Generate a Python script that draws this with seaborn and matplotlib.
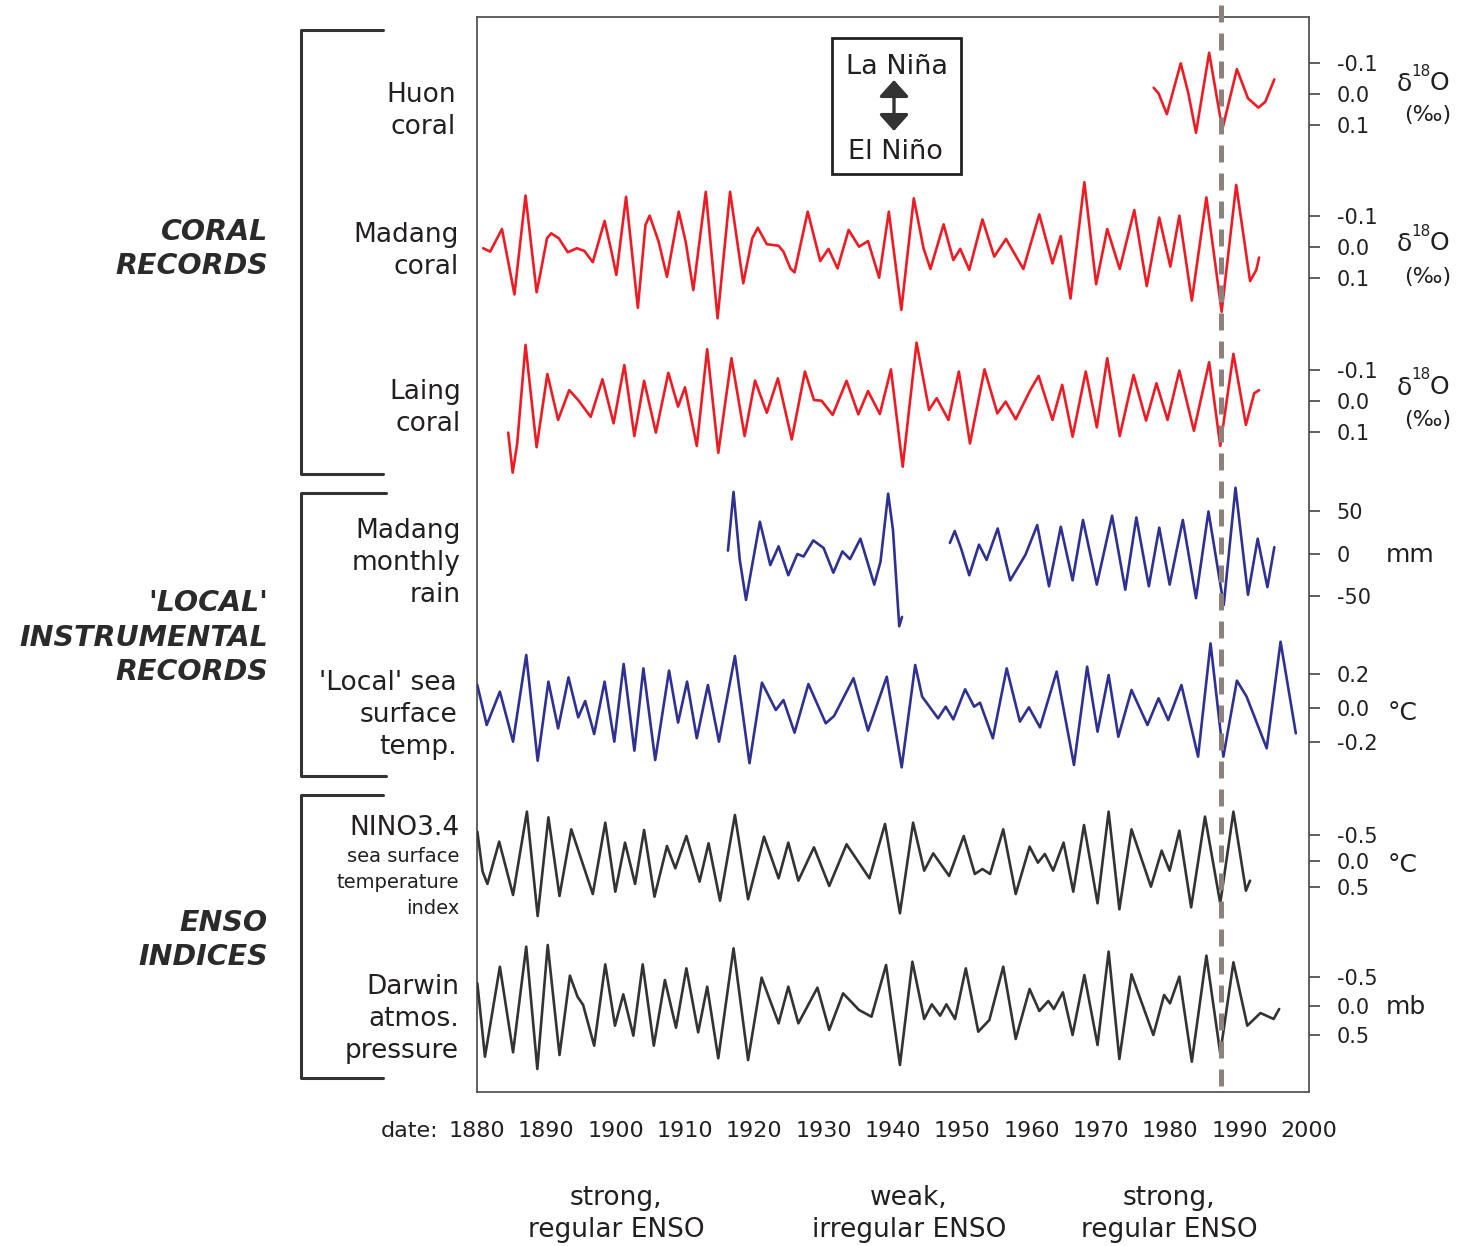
import numpy as np
import pandas as pd
import matplotlib
matplotlib.use("Agg")
import matplotlib.pyplot as plt
import seaborn as sns
from matplotlib.patches import Rectangle, FancyArrowPatch
from matplotlib.lines import Line2D

# ---------------- data (year, value) ----------------
huon_d18o = [(1977.6, -0.020), (1978.3, -0.002), (1979.5, 0.065), (1981.5, -0.099), (1982.6, -0.002),
             (1983.7, 0.125), (1985.6, -0.133), (1987.5, 0.114), (1989.6, -0.080), (1991.2, 0.014),
             (1992.0, 0.030), (1992.7, 0.044), (1993.7, 0.025), (1995.0, -0.047)]

madang_d18o = [(1880.9, 0.004), (1881.9, 0.015), (1883.6, -0.058), (1885.4, 0.153), (1887.0, -0.166),
               (1888.6, 0.146), (1889.1, 0.090), (1890.1, -0.028), (1890.7, -0.044), (1891.8, -0.028),
               (1893.1, 0.017), (1894.4, 0.004), (1895.5, 0.013), (1896.7, 0.049), (1898.4, -0.084),
               (1899.4, 0.015), (1900.1, 0.090), (1901.5, -0.162), (1903.2, 0.196), (1904.3, -0.071),
               (1904.9, -0.101), (1906.2, -0.017), (1907.4, 0.096), (1909.1, -0.114), (1910.1, -0.017),
               (1911.2, 0.139), (1913.0, -0.178), (1914.7, 0.230), (1916.5, -0.178), (1918.4, 0.117),
               (1919.7, -0.028), (1920.5, -0.062), (1921.8, -0.009), (1923.5, -0.004), (1924.2, 0.015),
               (1925.2, 0.069), (1925.8, 0.082), (1927.7, -0.114), (1929.5, 0.045), (1930.7, 0.006),
               (1932.0, 0.069), (1933.6, -0.055), (1935.1, -0.001), (1936.4, -0.019), (1938.0, 0.099),
               (1939.4, -0.114), (1941.2, 0.203), (1943.0, -0.157), (1944.4, 0.004), (1945.4, 0.071),
               (1947.3, -0.073), (1948.7, 0.042), (1949.7, 0.006), (1951.0, 0.074), (1952.9, -0.089),
               (1954.6, 0.031), (1956.3, -0.026), (1958.8, 0.071), (1961.1, -0.105), (1963.0, 0.053),
               (1964.2, -0.035), (1965.6, 0.166), (1967.6, -0.209), (1969.3, 0.120), (1970.9, -0.058),
               (1972.7, 0.071), (1974.8, -0.119), (1976.6, 0.126), (1978.4, -0.095), (1980.0, 0.063),
               (1981.3, -0.101), (1983.1, 0.173), (1985.2, -0.160), (1987.4, 0.209), (1989.5, -0.200),
               (1991.5, 0.110), (1992.4, 0.074), (1992.8, 0.034)]

laing_d18o = [(1884.5, 0.102), (1885.15, 0.231), (1885.8, 0.137), (1887.0, -0.181), (1888.6, 0.149),
              (1890.15, -0.087), (1891.7, 0.061), (1893.3, -0.035), (1894.6, -0.003), (1896.4, 0.051),
              (1898.1, -0.070), (1899.7, 0.072), (1901.25, -0.116), (1902.7, 0.113), (1904.1, -0.065),
              (1905.8, 0.102), (1907.6, -0.091), (1909.0, 0.018), (1910.0, -0.044), (1911.7, 0.145),
              (1913.2, -0.167), (1914.8, 0.167), (1916.7, -0.138), (1918.6, 0.113), (1920.1, -0.066),
              (1921.8, 0.038), (1923.4, -0.073), (1925.4, 0.124), (1927.3, -0.095), (1928.6, -0.003),
              (1929.7, -0.001), (1931.3, 0.045), (1933.3, -0.065), (1935.0, 0.043), (1936.4, -0.032),
              (1938.1, 0.042), (1939.7, -0.102), (1941.4, 0.212), (1943.4, -0.188), (1945.2, 0.029),
              (1946.3, -0.009), (1948.0, 0.061), (1949.5, -0.095), (1951.1, 0.137), (1953.2, -0.102),
              (1955.05, 0.040), (1956.25, 0.002), (1957.7, 0.059), (1959.8, -0.035), (1961.0, -0.081),
              (1963.0, 0.061), (1964.4, -0.052), (1965.9, 0.115), (1967.8, -0.095), (1969.4, 0.085),
              (1970.9, -0.138), (1972.7, 0.113), (1974.7, -0.084), (1976.5, 0.063), (1978.0, -0.057),
              (1979.6, 0.061), (1981.3, -0.098), (1983.4, 0.096), (1985.6, -0.125), (1987.2, 0.145),
              (1989.1, -0.152), (1990.9, 0.077), (1992.1, -0.025), (1992.8, -0.035)]

rain_mm_early = [(1916.2, 4), (1917.0, 73), (1917.9, -7), (1918.8, -54), (1920.8, 38), (1922.3, -13),
                 (1923.5, 9), (1924.9, -25), (1926.2, 0), (1927.1, -3), (1928.5, 16), (1930.0, 7),
                 (1931.4, -22), (1932.7, 3), (1933.8, -6), (1935.3, 18), (1937.3, -36), (1938.2, -9),
                 (1939.3, 71), (1940.0, 28), (1940.9, -85), (1941.3, -74)]

rain_mm_late = [(1948.2, 13), (1948.9, 27), (1949.8, 7), (1951.0, -25), (1952.4, 11), (1953.5, -7),
                (1955.1, 30), (1956.9, -31), (1959.1, -1), (1960.8, 34), (1962.5, -38), (1964.2, 32),
                (1965.9, -31), (1967.4, 40), (1969.4, -36), (1971.6, 45), (1973.5, -42), (1975.1, 43),
                (1976.9, -38), (1978.4, 31), (1979.9, -36), (1981.8, 40), (1983.7, -52), (1985.5, 50),
                (1987.7, -60), (1989.4, 78), (1991.2, -48), (1992.6, 18), (1994.0, -39), (1995.0, 8)]

local_sst = [(1880.05, 0.135), (1881.4, -0.100), (1883.3, 0.096), (1885.2, -0.198), (1887.1, 0.312),
             (1888.75, -0.310), (1890.3, 0.155), (1891.7, -0.120), (1893.2, 0.180), (1894.6, -0.055),
             (1895.6, 0.041), (1896.9, -0.153), (1898.4, 0.155), (1899.8, -0.198), (1901.15, 0.259),
             (1902.7, -0.251), (1904.0, 0.233), (1905.7, -0.306), (1907.7, 0.220), (1909.0, -0.086),
             (1910.3, 0.155), (1911.7, -0.178), (1913.3, 0.135), (1914.9, -0.198), (1917.2, 0.306),
             (1919.3, -0.325), (1921.1, 0.149), (1923.1, -0.012), (1924.2, 0.047), (1925.8, -0.145),
             (1927.8, 0.141), (1930.3, -0.090), (1931.5, -0.047), (1934.3, 0.175), (1936.4, -0.133),
             (1939.1, 0.184), (1941.25, -0.349), (1943.2, 0.253), (1944.2, 0.067), (1946.5, -0.061),
             (1947.6, 0.008), (1948.7, -0.067), (1950.4, 0.110), (1951.7, 0.008), (1952.55, 0.031),
             (1954.4, -0.178), (1956.4, 0.233), (1958.3, -0.080), (1959.6, 0.004), (1961.2, -0.114),
             (1963.6, 0.214), (1966.1, -0.335), (1968.0, 0.243), (1969.5, -0.139), (1971.1, 0.194),
             (1972.5, -0.169), (1974.4, 0.106), (1976.7, -0.100), (1978.3, 0.057), (1979.7, -0.071),
             (1981.6, 0.135), (1984.0, -0.286), (1985.8, 0.380), (1987.65, -0.286), (1989.6, 0.161),
             (1991.0, 0.067), (1993.9, -0.237), (1995.9, 0.390), (1998.1, -0.149)]

nino34_sst = [(1880.05, -0.564), (1880.8, 0.200), (1881.5, 0.442), (1883.2, -0.372), (1885.2, 0.654),
              (1887.2, -0.949), (1888.75, 1.058), (1890.3, -0.840), (1891.9, 0.673), (1893.6, -0.609),
              (1896.7, 0.635), (1898.5, -0.737), (1899.95, 0.590), (1901.35, -0.353), (1902.8, 0.442),
              (1904.1, -0.596), (1905.6, 0.686), (1907.4, -0.288), (1908.6, 0.141), (1910.2, -0.481),
              (1912.1, 0.397), (1913.4, -0.340), (1915.05, 0.763), (1917.2, -0.885), (1919.1, 0.737),
              (1921.4, -0.468), (1923.5, 0.333), (1924.9, -0.353), (1926.35, 0.378), (1928.6, -0.263),
              (1930.8, 0.481), (1933.3, -0.321), (1936.6, 0.333), (1938.85, -0.712), (1941.0, 1.006),
              (1942.9, -0.737), (1944.5, 0.186), (1945.8, -0.147), (1948.1, 0.288), (1950.2, -0.481),
              (1951.8, 0.250), (1952.9, 0.154), (1954.0, 0.250), (1955.9, -0.609), (1957.7, 0.635),
              (1959.7, -0.276), (1960.9, 0.032), (1961.9, -0.135), (1963.1, 0.186), (1964.6, -0.353),
              (1966.0, 0.590), (1967.55, -0.692), (1969.5, 0.814), (1971.1, -0.949), (1972.65, 0.929),
              (1974.4, -0.609), (1977.2, 0.494), (1978.75, -0.199), (1979.9, 0.186), (1981.3, -0.583),
              (1983.0, 0.891), (1985.0, -0.853), (1987.2, 0.814), (1989.1, -0.949), (1990.9, 0.571),
              (1991.5, 0.378)]

darwin_mb = [(1880.05, -0.391), (1881.15, 0.874), (1883.3, -0.678), (1885.2, 0.799), (1887.1, -1.023),
             (1888.7, 1.086), (1890.2, -1.052), (1891.9, 0.845), (1893.4, -0.523), (1894.5, -0.160),
             (1895.3, -0.020), (1896.9, 0.684), (1898.5, -0.718), (1899.9, 0.339), (1901.1, -0.201),
             (1902.55, 0.511), (1903.9, -0.718), (1905.5, 0.684), (1907.1, -0.448), (1908.7, 0.374),
             (1910.2, -0.649), (1911.9, 0.454), (1913.2, -0.333), (1914.8, 0.902), (1917.0, -0.994),
             (1919.1, 0.931), (1921.05, -0.489), (1923.5, 0.299), (1924.9, -0.333), (1926.35, 0.299),
             (1929.1, -0.316), (1930.8, 0.414), (1932.8, -0.218), (1935.1, 0.069), (1936.9, 0.184),
             (1939.0, -0.707), (1941.0, 1.017), (1942.8, -0.764), (1944.5, 0.224), (1945.6, -0.029),
             (1946.8, 0.167), (1947.7, -0.029), (1948.95, 0.224), (1950.5, -0.649), (1952.3, 0.443),
             (1953.9, 0.241), (1955.9, -0.678), (1957.7, 0.569), (1959.7, -0.293), (1961.1, 0.086),
             (1962.4, -0.086), (1963.2, 0.052), (1964.5, -0.236), (1965.9, 0.500), (1967.6, -0.534),
             (1969.5, 0.672), (1971.1, -0.937), (1972.65, 0.914), (1974.4, -0.546), (1977.55, 0.500),
             (1979.1, -0.190), (1979.95, -0.046), (1981.3, -0.506), (1983.1, 0.960), (1985.2, -0.868),
             (1987.2, 0.816), (1989.1, -0.753), (1991.1, 0.339), (1993.0, 0.121), (1994.9, 0.224),
             (1995.7, 0.052)]

decade_ticks = [1880, 1890, 1900, 1910, 1920, 1930, 1940, 1950, 1960, 1970, 1980, 1990, 2000]
event_year = 1987.3

# ---------------- layout ----------------
W, H = 1459, 1246
fig = plt.figure(figsize=(W / 100, H / 100), dpi=100)
sns.set_style("white")
plt.rcParams['font.family'] = ['DejaVu Sans']

AX_L, AX_R, AX_T, AX_B = 477, 1309, 17, 1092
rect = [AX_L / W, 1 - AX_B / H, (AX_R - AX_L) / W, (AX_B - AX_T) / H]
RED, BLUE, DARK = '#ed1c24', '#2e3192', '#333333'
TXT = '#231f20'

ax = fig.add_axes(rect)
ax.set_xlim(1880, 2000)
ax.set_ylim(AX_B, AX_T)
ax.set_yticks([])
ax.set_xticks(decade_ticks)
ax.set_xticklabels([str(t) for t in decade_ticks], fontsize=16, color=TXT)
ax.tick_params(axis='x', direction='out', length=4, width=1.2, color='#444444', pad=17)
for s in ax.spines.values():
    s.set_color('#555555')
    s.set_linewidth(1.3)
ax.set_facecolor('none')

# (data, pixel of zero, pixels per unit, colour, ticks, tick labels)
series = [
    ([huon_d18o], 94, 310, RED, [-0.1, 0.0, 0.1], ['-0.1', '0.0', '0.1']),
    ([madang_d18o], 247, 310, RED, [-0.1, 0.0, 0.1], ['-0.1', '0.0', '0.1']),
    ([laing_d18o], 401, 310, RED, [-0.1, 0.0, 0.1], ['-0.1', '0.0', '0.1']),
    ([rain_mm_early, rain_mm_late], 554, -0.85, BLUE, [50, 0, -50], ['50', '0', '-50']),
    ([local_sst], 708, -170, BLUE, [0.2, 0.0, -0.2], ['0.2', '0.0', '-0.2']),
    ([nino34_sst], 861, 52, DARK, [-0.5, 0.0, 0.5], ['-0.5', '0.0', '0.5']),
    ([darwin_mb], 1006, 58, DARK, [-0.5, 0.0, 0.5], ['-0.5', '0.0', '0.5']),
]

for parts, p0, k, col, ticks, labels in series:
    a = fig.add_axes(rect, sharex=ax)
    a.set_facecolor('none')
    for s in a.spines.values():
        s.set_visible(False)
    a.set_ylim((AX_B - p0) / k, (AX_T - p0) / k)
    for part in parts:
        df = pd.DataFrame(part, columns=['year', 'value'])
        sns.lineplot(data=df, x='year', y='value', ax=a, color=col, lw=1.9,
                     sort=False, estimator=None)
    for ln in a.lines:
        ln.set_solid_joinstyle('round')
        ln.set_solid_capstyle('round')
    a.set_xlabel('')
    a.set_ylabel('')
    a.yaxis.tick_right()
    a.set_yticks(ticks)
    a.set_yticklabels(labels, fontsize=15, color=TXT)
    a.tick_params(axis='y', direction='out', length=8, width=1.2, color='#444444', pad=12)
    a.tick_params(axis='x', which='both', bottom=False, labelbottom=False)

# dashed event line on top
top = fig.add_axes(rect, sharex=ax)
top.set_facecolor('none')
top.set_ylim(AX_B, AX_T)
top.axis('off')
top.plot([event_year, event_year], [5, 1090], color='#8e817c', lw=3.6,
         linestyle=(0, (3.4, 2.2)), clip_on=False, dash_capstyle='butt')

def ftext(x, y, s, **kw):
    kw.setdefault('va', 'center')
    kw.setdefault('color', TXT)
    fig.text(x / W, 1 - y / H, s, **kw)

# x axis prefix and regime notes
ftext(438, 1131, 'date:', ha='right', fontsize=16)
for cx, l1, l2 in [(616, 'strong,', 'regular ENSO'), (909, 'weak,', 'irregular ENSO'),
                   (1169, 'strong,', 'regular ENSO')]:
    ftext(cx, 1198, l1, ha='center', fontsize=19)
    ftext(cx, 1230, l2, ha='center', fontsize=19)

# units on the right
for yd, yp in [(82, 115), (242, 277), (386, 420)]:
    ftext(1397, yd + 2, 'δ', ha='left', fontsize=18)
    ftext(1411, yd - 11, '18', ha='left', fontsize=11)
    ftext(1430, yd + 1, 'O', ha='left', fontsize=18)
    ftext(1428, yp, '(‰)', ha='center', fontsize=16)
ftext(1386, 555, 'mm', ha='left', fontsize=18)
ftext(1388, 713, '°C', ha='left', fontsize=18)
ftext(1388, 865, '°C', ha='left', fontsize=18)
ftext(1386, 1007, 'mb', ha='left', fontsize=18)

# series labels on the left
LBL = 19
for x, y, s, fs in [(456, 95, 'Huon', LBL), (456, 127, 'coral', LBL),
                    (459, 235, 'Madang', LBL), (459, 267, 'coral', LBL),
                    (461, 392, 'Laing', LBL), (461, 424, 'coral', LBL),
                    (461, 531, 'Madang', LBL), (461, 563, 'monthly', LBL), (461, 595, 'rain', LBL),
                    (457, 683, "'Local' sea", LBL), (457, 715, 'surface', LBL), (457, 747, 'temp.', LBL),
                    (459, 828, 'NINO3.4', LBL), (459, 857, 'sea surface', 14),
                    (459, 882, 'temperature', 14), (459, 909, 'index', 14),
                    (459, 987, 'Darwin', LBL), (459, 1019, 'atmos.', LBL), (459, 1051, 'pressure', LBL)]:
    ftext(x, y, s, ha='right', fontsize=fs)

# group labels
for y, s in [(232, 'CORAL'), (266, 'RECORDS'), (603, "'LOCAL'"), (638, 'INSTRUMENTAL'),
             (672, 'RECORDS'), (923, 'ENSO'), (957, 'INDICES')]:
    ftext(268, y, s, ha='right', fontsize=20.5, fontweight='bold', fontstyle='italic', color='#2a2a2a')

# brackets
for y0, y1, xr in [(30, 474, 383), (493, 776, 386), (795, 1078, 383)]:
    fig.add_artist(Line2D([xr / W, 301 / W, 301 / W, xr / W],
                          [1 - y0 / H, 1 - y0 / H, 1 - y1 / H, 1 - y1 / H],
                          transform=fig.transFigure, lw=2.2, color='#333333'))

# La Nina / El Nino key
fig.add_artist(Rectangle((832 / W, 1 - 174 / H), (961 - 832) / W, (174 - 38) / H,
                         transform=fig.transFigure, fill=False, lw=2, ec='#222222'))
ftext(897, 67, 'La Niña', ha='center', fontsize=19.5)
ftext(895, 152, 'El Niño', ha='center', fontsize=19.5)
fig.add_artist(FancyArrowPatch((894 / W, 1 - 80 / H), (894 / W, 1 - 131 / H),
                               transform=fig.transFigure,
                               arrowstyle='<|-|>,head_length=0.5,head_width=0.45',
                               mutation_scale=20, lw=2.4, color='#333333',
                               shrinkA=0, shrinkB=0))

fig.savefig('out.png', dpi=100)
